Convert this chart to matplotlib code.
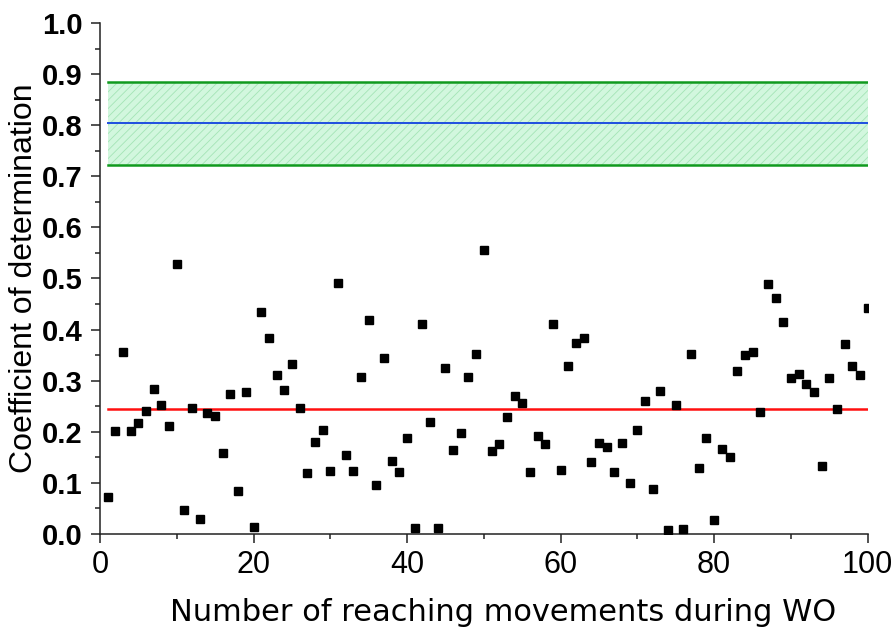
import matplotlib
matplotlib.use("Agg")
import matplotlib.pyplot as plt
from matplotlib.ticker import MultipleLocator

# coefficient of determination for each reaching movement (1..100)
movements = list(range(1, 101))
r2_values = [
    0.073, 0.201, 0.357, 0.201, 0.217, 0.240, 0.284, 0.252, 0.212, 0.529,
    0.046, 0.247, 0.029, 0.237, 0.230, 0.159, 0.273, 0.084, 0.278, 0.014,
    0.435, 0.383, 0.312, 0.282, 0.333, 0.247, 0.120, 0.180, 0.203, 0.124,
    0.492, 0.155, 0.124, 0.307, 0.418, 0.095, 0.344, 0.142, 0.121, 0.188,
    0.012, 0.411, 0.219, 0.012, 0.324, 0.165, 0.197, 0.307, 0.353, 0.555,
    0.163, 0.176, 0.228, 0.270, 0.256, 0.121, 0.192, 0.176, 0.410, 0.125,
    0.329, 0.373, 0.384, 0.140, 0.178, 0.170, 0.121, 0.178, 0.100, 0.203,
    0.261, 0.088, 0.279, 0.007, 0.252, 0.010, 0.352, 0.129, 0.188, 0.027,
    0.167, 0.151, 0.318, 0.350, 0.357, 0.238, 0.490, 0.462, 0.415, 0.305,
    0.314, 0.294, 0.278, 0.133, 0.305, 0.244, 0.371, 0.328, 0.312, 0.442,
]

mean_wo = 0.245       # red line
ref_mean = 0.804      # blue line
ref_upper = 0.885     # green band top
ref_lower = 0.722     # green band bottom

plt.rcParams['hatch.linewidth'] = 0.6
plt.rcParams['hatch.color'] = '#9fe3b3'

fig = plt.figure(figsize=(8.95, 6.28), dpi=100)
ax = fig.add_axes([0.1117, 0.1497, 0.8578, 0.8137])

xs = [movements[0], movements[-1]]
ax.fill_between(xs, ref_lower, ref_upper, facecolor='#d2f7de',
                edgecolor='#a4e4b6', hatch='////', linewidth=0, zorder=1)
ax.plot(xs, [ref_upper] * 2, color='#109a1e', lw=1.8, zorder=2)
ax.plot(xs, [ref_lower] * 2, color='#109a1e', lw=1.8, zorder=2)
ax.plot(xs, [ref_mean] * 2, color='#1f4fe0', lw=1.4, zorder=2)
ax.plot(xs, [mean_wo] * 2, color='#ff1010', lw=1.8, zorder=2)

ax.plot(movements, r2_values, 's', color='black', markersize=6.4,
        linestyle='none', zorder=3)

ax.set_xlim(0, 100)
ax.set_ylim(0, 1.0)
ax.xaxis.set_major_locator(MultipleLocator(20))
ax.xaxis.set_minor_locator(MultipleLocator(10))
ax.yaxis.set_major_locator(MultipleLocator(0.1))
ax.yaxis.set_minor_locator(MultipleLocator(0.05))
ax.yaxis.set_major_formatter(matplotlib.ticker.FormatStrFormatter('%.1f'))

for side in ['top', 'right']:
    ax.spines[side].set_visible(False)
for side in ['left', 'bottom']:
    ax.spines[side].set_linewidth(1.1)
    ax.spines[side].set_color('#222222')

ax.tick_params(which='major', direction='out', length=6.5, width=1.1, color='#222222')
ax.tick_params(which='minor', direction='out', length=3.5, width=1.1, color='#222222')
ax.tick_params(axis='x', which='major', pad=5)
ax.tick_params(axis='y', which='major', pad=6)

for lab in ax.get_yticklabels():
    lab.set_fontfamily('Liberation Sans')
    lab.set_fontweight('bold')
    lab.set_fontsize(21)
for lab in ax.get_xticklabels():
    lab.set_fontfamily('Liberation Sans')
    lab.set_fontsize(22)

ax.set_ylabel('Coefficient of determination', fontsize=23,
              family='Liberation Sans')
ax.yaxis.set_label_coords(-0.08, 0.5)
ax.set_xlabel('Number of reaching movements during WO', fontsize=22,
              family='DejaVu Sans')
ax.xaxis.set_label_coords(0.525, -0.125)

fig.savefig('out.png', dpi=100)
